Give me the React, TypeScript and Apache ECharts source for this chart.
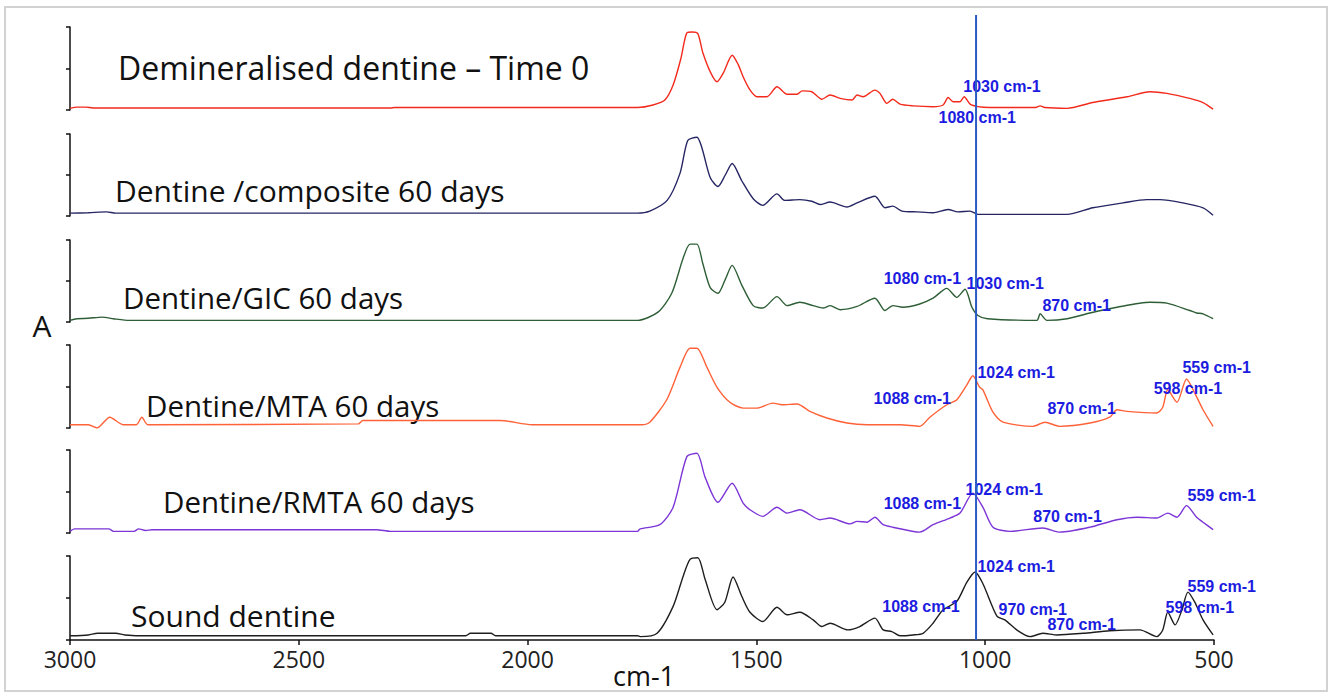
import React, { useEffect, useRef } from "react";
import * as echarts from "echarts";

// ---- Data: wavenumber (cm-1) vs. normalised absorbance within each trace's band ----
const traceNames = [
  "Demineralised dentine – Time 0",
  "Dentine /composite 60 days",
  "Dentine/GIC 60 days",
  "Dentine/MTA 60 days",
  "Dentine/RMTA 60 days",
  "Sound dentine",
];

const demineralised: number[][] = [
  [3000, 0.02], [2985, 0.035], [2965, 0.035], [2950, 0.025], [2300, 0.025], [2290, 0.03], [1760, 0.03],
  [1726, 0.06], [1700, 0.12], [1682, 0.3], [1665, 0.62], [1652, 0.93], [1640, 0.94], [1628, 0.92],
  [1617, 0.69], [1600, 0.45], [1586, 0.34], [1572, 0.45], [1553, 0.66], [1540, 0.55], [1529, 0.4],
  [1515, 0.25], [1499, 0.16], [1477, 0.16], [1455, 0.28], [1433, 0.19], [1411, 0.19], [1400, 0.23],
  [1379, 0.22], [1357, 0.13], [1339, 0.18], [1317, 0.14], [1291, 0.12], [1280, 0.18], [1267, 0.16],
  [1241, 0.24], [1230, 0.2], [1215, 0.08], [1202, 0.13], [1186, 0.07], [1158, 0.05], [1114, 0.04],
  [1092, 0.06], [1081, 0.15], [1070, 0.1], [1055, 0.1], [1046, 0.16], [1033, 0.07], [1016, 0.04],
  [990, 0.03], [890, 0.03], [880, 0.05], [870, 0.03], [821, 0.02], [765, 0.09], [690, 0.16],
  [640, 0.22], [603, 0.2], [553, 0.14], [524, 0.09], [502, 0.01],
];

const composite: number[][] = [
  [3000, 0.035], [2960, 0.04], [2920, 0.05], [2900, 0.035], [1760, 0.035], [1733, 0.06], [1695, 0.19],
  [1667, 0.52], [1650, 0.92], [1630, 0.96], [1619, 0.83], [1601, 0.47], [1584, 0.36], [1568, 0.5],
  [1553, 0.64], [1532, 0.43], [1507, 0.21], [1486, 0.13], [1455, 0.27], [1438, 0.19], [1405, 0.2],
  [1379, 0.18], [1361, 0.14], [1339, 0.17], [1302, 0.11], [1280, 0.16], [1241, 0.24], [1219, 0.1],
  [1202, 0.12], [1182, 0.06], [1149, 0.05], [1114, 0.04], [1081, 0.08], [1060, 0.05], [1033, 0.06],
  [1016, 0.02], [821, 0.02], [765, 0.1], [699, 0.16], [647, 0.2], [618, 0.2], [568, 0.16],
  [524, 0.1], [502, 0.01],
];

const gic: number[][] = [
  [3000, 0.02], [2985, 0.04], [2960, 0.045], [2930, 0.06], [2905, 0.04], [2870, 0.02], [1760, 0.02],
  [1715, 0.12], [1685, 0.35], [1660, 0.78], [1645, 0.95], [1630, 0.95], [1617, 0.71], [1601, 0.42],
  [1584, 0.35], [1568, 0.52], [1553, 0.69], [1532, 0.45], [1507, 0.2], [1486, 0.17], [1455, 0.31],
  [1433, 0.2], [1405, 0.24], [1376, 0.2], [1354, 0.17], [1339, 0.2], [1317, 0.15], [1280, 0.19],
  [1241, 0.29], [1219, 0.14], [1202, 0.2], [1180, 0.18], [1143, 0.22], [1114, 0.29], [1084, 0.41],
  [1062, 0.3], [1044, 0.4], [1029, 0.18], [1016, 0.08], [995, 0.04], [887, 0.02], [880, 0.1],
  [865, 0.02], [821, 0.04], [771, 0.11], [712, 0.18], [640, 0.24], [603, 0.23], [553, 0.14],
  [538, 0.11], [524, 0.1], [502, 0.04],
];

const mta: number[][] = [
  [3000, 0.04], [2960, 0.04], [2941, 0.0], [2913, 0.13], [2884, 0.04], [2855, 0.04], [2843, 0.13],
  [2830, 0.04], [2370, 0.05], [2360, 0.09], [2060, 0.09], [1990, 0.04], [1750, 0.04], [1733, 0.07],
  [1696, 0.34], [1667, 0.73], [1645, 0.96], [1630, 0.96], [1608, 0.73], [1586, 0.49], [1558, 0.31],
  [1529, 0.24], [1499, 0.24], [1464, 0.3], [1444, 0.28], [1411, 0.29], [1383, 0.2], [1346, 0.12],
  [1302, 0.06], [1258, 0.04], [1186, 0.04], [1143, 0.02], [1121, 0.13], [1084, 0.28], [1062, 0.34],
  [1040, 0.52], [1027, 0.63], [1012, 0.49], [1005, 0.46], [983, 0.19], [961, 0.07], [896, 0.02],
  [869, 0.07], [837, 0.02], [771, 0.06], [728, 0.13], [712, 0.22], [690, 0.2], [625, 0.18],
  [612, 0.25], [601, 0.46], [581, 0.31], [560, 0.59], [542, 0.42], [524, 0.22], [502, 0.02],
];

const rmta: number[][] = [
  [3000, 0.02], [2990, 0.05], [2915, 0.05], [2905, 0.02], [2860, 0.02], [2850, 0.05], [2835, 0.03],
  [2820, 0.04], [2330, 0.04], [2300, 0.02], [1760, 0.02], [1754, 0.05], [1711, 0.1], [1682, 0.31],
  [1652, 0.92], [1630, 0.96], [1612, 0.67], [1584, 0.37], [1553, 0.6], [1529, 0.36], [1514, 0.28],
  [1486, 0.2], [1455, 0.31], [1433, 0.24], [1405, 0.28], [1361, 0.16], [1339, 0.18], [1295, 0.11],
  [1280, 0.14], [1258, 0.13], [1241, 0.19], [1223, 0.1], [1202, 0.07], [1143, 0.01], [1114, 0.1],
  [1077, 0.18], [1055, 0.24], [1027, 0.48], [1005, 0.31], [983, 0.07], [946, 0.02], [874, 0.06],
  [837, 0.01], [771, 0.07], [712, 0.16], [668, 0.19], [625, 0.18], [601, 0.24], [581, 0.19],
  [560, 0.33], [538, 0.19], [524, 0.13], [502, 0.04],
];

const sound: number[][] = [
  [3000, 0.05], [2960, 0.06], [2940, 0.08], [2900, 0.08], [2880, 0.06], [2830, 0.05], [2135, 0.05],
  [2125, 0.08], [2080, 0.08], [2070, 0.05], [1760, 0.05], [1754, 0.04], [1717, 0.08], [1682, 0.4],
  [1660, 0.76], [1645, 0.96], [1628, 0.98], [1612, 0.72], [1586, 0.36], [1569, 0.45], [1551, 0.75],
  [1532, 0.52], [1514, 0.33], [1486, 0.22], [1455, 0.39], [1433, 0.3], [1405, 0.33], [1376, 0.24],
  [1357, 0.16], [1339, 0.2], [1300, 0.12], [1274, 0.16], [1241, 0.26], [1223, 0.12], [1204, 0.1],
  [1186, 0.05], [1158, 0.06], [1136, 0.08], [1114, 0.2], [1092, 0.36], [1062, 0.46], [1040, 0.69],
  [1022, 0.81], [1005, 0.67], [974, 0.28], [957, 0.24], [931, 0.12], [902, 0.04], [874, 0.08],
  [843, 0.06], [786, 0.08], [728, 0.11], [662, 0.12], [625, 0.04], [612, 0.12], [601, 0.33],
  [585, 0.18], [570, 0.36], [557, 0.57], [542, 0.45], [524, 0.24], [502, 0.06],
];

const traces = [demineralised, composite, gic, mta, rmta, sound];

// Peak annotations: [label, wavenumber at label's left edge, level, extra pixel drop]
const peaks1: [string, number, number, number][] = [
  ["1030 cm-1", 1049, 0.28, 0],
  ["1080 cm-1", 1103, 0, 7],
];
const peaks2: [string, number, number, number][] = [];
const peaks3: [string, number, number, number][] = [
  ["1080 cm-1", 1223, 0.53, 0],
  ["1030 cm-1", 1042, 0.47, 0],
  ["870 cm-1", 876, 0.2, 0],
];
const peaks4: [string, number, number, number][] = [
  ["1088 cm-1", 1245, 0.35, 0],
  ["1024 cm-1", 1018, 0.67, 0],
  ["870 cm-1", 865, 0.24, 0],
  ["559 cm-1", 570, 0.73, 0],
  ["598 cm-1", 633, 0.48, 0],
];
const peaks5: [string, number, number, number][] = [
  ["1088 cm-1", 1223, 0.36, 0],
  ["1024 cm-1", 1044, 0.52, 0],
  ["870 cm-1", 896, 0.2, 0],
  ["559 cm-1", 559, 0.45, 0],
];
const peaks6: [string, number, number, number][] = [
  ["1024 cm-1", 1018, 0.88, 0],
  ["1088 cm-1", 1226, 0.4, 0],
  ["970 cm-1", 972, 0.36, 0],
  ["870 cm-1", 865, 0.18, 0],
  ["559 cm-1", 559, 0.64, 0],
  ["598 cm-1", 607, 0.39, 0],
];
const peaks = [peaks1, peaks2, peaks3, peaks4, peaks5, peaks6];

const referenceLine = 1020; // cm-1
const xTicks = { min: 500, max: 3000, step: 500 };

// ---- Styling / layout ----
const colors = ["#f22a1c", "#262664", "#2e5e36", "#ff6238", "#7c35d6", "#1e1e1e"];
const gridTops = [27, 134, 240, 345, 450, 556];
const gridHeights = [83, 82, 82, 83, 83, 84];
const labelMiddles = [67, 190, 297, 405, 501, 615];
const labelLefts = [118, 115, 123, 146, 163, 131];
const labelSizes = [32, 30, 29.5, 29.5, 29.5, 30];
const GRID_LEFT = 70;
const GRID_RIGHT = 117;
const FONT = "'Open Sans', 'Noto Sans', sans-serif";
const ANNOT_COLOR = "#1c1ce0";

export default function App() {
  const ref = useRef<HTMLDivElement>(null);

  useEffect(() => {
    if (!ref.current) return;
    const chart = echarts.init(ref.current, undefined, { renderer: "svg" });

    const grids: any[] = gridTops.map((t, i) => ({
      left: GRID_LEFT,
      right: GRID_RIGHT,
      top: t,
      height: gridHeights[i],
    }));
    grids.push({ left: GRID_LEFT, right: GRID_RIGHT, top: 15, height: 625 });

    const xAxes: any[] = traces.map((_, i) => ({
      type: "value",
      gridIndex: i,
      min: xTicks.min,
      max: xTicks.max,
      interval: xTicks.step,
      inverse: true,
      show: i === traces.length - 1,
      axisLine: { show: true, onZero: false, lineStyle: { color: "#111", width: 1.5 } },
      axisTick: { show: true, length: 5, lineStyle: { color: "#111", width: 1.5 } },
      axisLabel: {
        color: "#222",
        fontSize: 23,
        fontFamily: FONT,
        margin: 7,
        formatter: (v: number) => String(v),
      },
      splitLine: { show: false },
    }));
    xAxes.push({
      type: "value",
      gridIndex: 6,
      min: xTicks.min,
      max: xTicks.max,
      inverse: true,
      show: false,
    });

    const yAxes: any[] = traces.map((_, i) => ({
      type: "value",
      gridIndex: i,
      min: 0,
      max: 1,
      interval: 0.5,
      axisLine: { show: true, lineStyle: { color: "#111", width: 1.5 } },
      axisTick: { show: true, length: 4, lineStyle: { color: "#111", width: 1.5 } },
      axisLabel: { show: false },
      splitLine: { show: false },
    }));
    yAxes.push({ type: "value", gridIndex: 6, min: 0, max: 1, show: false });

    const series: any[] = traces.map((d, i) => ({
      type: "line",
      name: traceNames[i],
      xAxisIndex: i,
      yAxisIndex: i,
      data: d,
      showSymbol: false,
      smooth: 0.25,
      lineStyle: { color: colors[i], width: 1.4 },
      markPoint: {
        symbol: "circle",
        symbolSize: 1,
        itemStyle: { color: "rgba(0,0,0,0)" },
        label: {
          show: true,
          position: "right",
          distance: 0,
          formatter: "{b}",
          color: ANNOT_COLOR,
          fontSize: 16,
          fontWeight: "bold",
          fontFamily: "'Liberation Sans', Arial, sans-serif",
        },
        data: peaks[i].map(([name, w, v, drop]) => ({
          name,
          coord: [w, v],
          label: {
            show: true,
            position: "right",
            distance: 0,
            offset: [0, drop],
            color: ANNOT_COLOR,
            fontSize: 16,
            fontWeight: "bold",
            fontFamily: "'Liberation Sans', Arial, sans-serif",
          },
        })),
      },
    }));

    series.push({
      type: "line",
      xAxisIndex: 6,
      yAxisIndex: 6,
      data: [
        [referenceLine, 0],
        [referenceLine, 1],
      ],
      showSymbol: false,
      z: 5,
      lineStyle: { color: "#2a5cc4", width: 2 },
    });

    const graphics: any[] = [
      {
        type: "rect",
        shape: { x: 5, y: 7, width: 1322, height: 684 },
        style: { fill: "none", stroke: "#d2d2d2", lineWidth: 2 },
        silent: true,
      },
      ...traceNames.map((name, i) => ({
        type: "text",
        x: labelLefts[i],
        y: labelMiddles[i],
        style: {
          text: name,
          fill: "#111",
          font: `${labelSizes[i]}px ${FONT}`,
          textAlign: "left",
          textVerticalAlign: "middle",
          verticalAlign: "middle",
        },
      })),
      {
        type: "text",
        x: 42,
        y: 325,
        style: {
          text: "A",
          fill: "#111",
          font: `30px ${FONT}`,
          textAlign: "center",
          textVerticalAlign: "middle",
          verticalAlign: "middle",
        },
      },
      {
        type: "text",
        x: 644,
        y: 675,
        style: {
          text: "cm-1",
          fill: "#111",
          font: `27px ${FONT}`,
          textAlign: "center",
          textVerticalAlign: "middle",
          verticalAlign: "middle",
        },
      },
    ];

    chart.setOption({
      animation: false,
      backgroundColor: "#ffffff",
      grid: grids,
      xAxis: xAxes,
      yAxis: yAxes,
      series,
      graphic: graphics,
    });

    return () => chart.dispose();
  }, []);

  return (
    <div
      ref={ref}
      style={{ position: "absolute", left: 0, top: 0, width: 1331, height: 695 }}
    />
  );
}
